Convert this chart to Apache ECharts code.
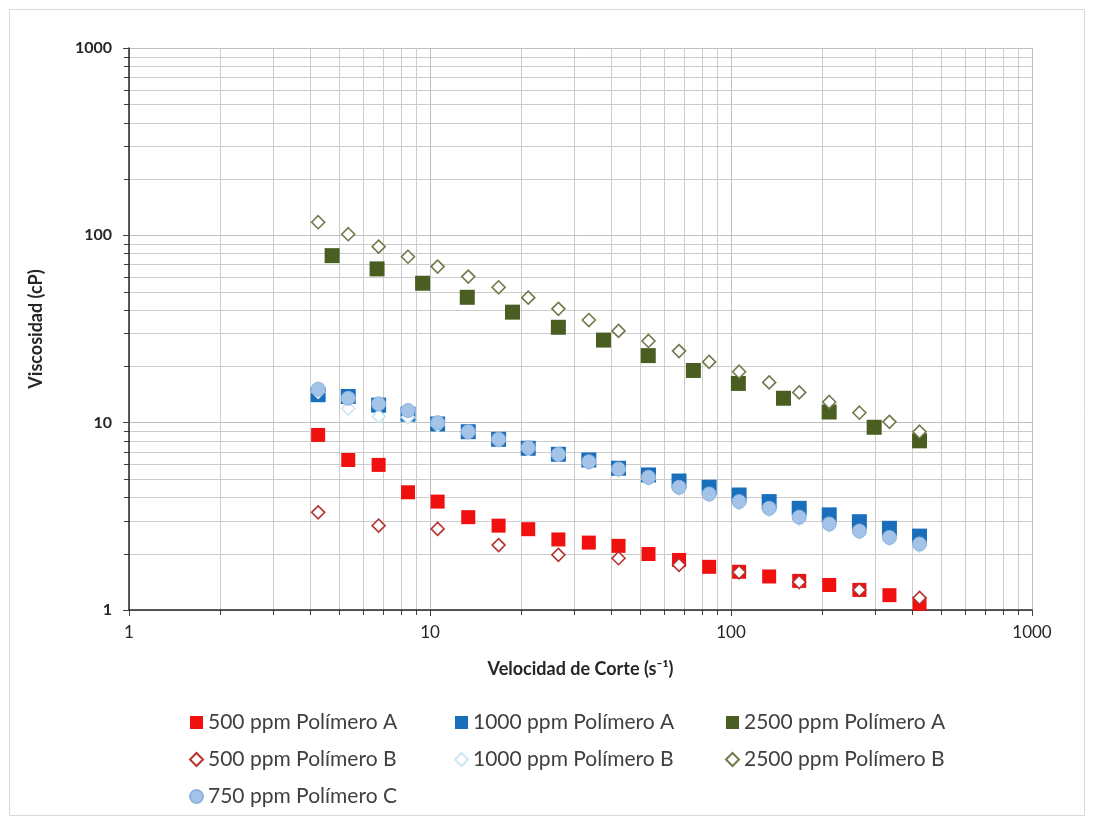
<!DOCTYPE html>
<html>
<head>
<meta charset="utf-8">
<script src="https://cdn.jsdelivr.net/npm/echarts@6/dist/echarts.min.js"></script>
<style>
html,body{margin:0;padding:0;background:#fff;}
#chart{width:1093px;height:820px;}
</style>
</head>
<body>
<div id="chart"></div>
<script>
// Shear rates (s^-1)
const xFull = [4.25,5.35,6.75,8.45,10.6,13.4,16.9,21.2,26.7,33.7,42.3,53.2,67.2,84.6,106.4,133.9,168.5,212,267,336,423];
const xHalf = [4.25,6.75,10.6,16.9,26.7,42.3,67.2,106.4,168.5,267,423];
const x2500A = [4.73,6.67,9.45,13.3,18.8,26.7,37.7,53.1,75.0,105.8,149.4,211.9,299,423];

// Viscosities (cP)
const y500A  = [8.60,6.32,5.95,4.25,3.79,3.13,2.82,2.70,2.38,2.29,2.20,1.99,1.85,1.70,1.60,1.51,1.43,1.36,1.28,1.20,1.08];
const y1000A = [14.1,13.8,12.4,11.1,9.84,8.95,8.15,7.30,6.78,6.32,5.71,5.26,4.88,4.52,4.11,3.79,3.49,3.22,2.96,2.73,2.48];
const y2500A = [77.9,66.2,55.5,46.7,38.9,32.3,27.6,22.8,19.0,16.2,13.5,11.4,9.45,8.0];
const y500B  = [3.32,2.82,2.71,2.22,1.97,1.89,1.74,1.59,1.41,1.28,1.16];
const y1000B = [14.6,11.9,10.8,10.7,9.7,8.8,8.0,7.2,6.7,6.1,5.55,5.0,4.45,4.1,3.72,3.42,3.07,2.83,2.6,2.4,2.2];
const y2500B = [117.5,101.4,87.0,76.9,68.1,60.2,52.8,46.5,40.5,35.3,30.9,27.3,24.1,21.1,18.7,16.4,14.5,12.9,11.3,10.1,8.95];
const y750C  = [15.1,13.5,12.6,11.6,10.0,8.95,8.15,7.35,6.78,6.19,5.66,5.11,4.52,4.16,3.79,3.49,3.13,2.88,2.64,2.44,2.25];

// Axis tick values
const minorX = [2,3,4,5,6,7,8,9,20,30,40,50,60,70,80,90,200,300,400,500,600,700,800,900];
const minorY = [2,3,4,5,6,7,8,9,20,30,40,50,60,70,80,90,200,300,400,500,600,700,800,900];

const names = ['500 ppm Polímero A','1000 ppm Polímero A','2500 ppm Polímero A','500 ppm Polímero B','1000 ppm Polímero B','2500 ppm Polímero B','750 ppm Polímero C'];

const zip = (xs, ys) => xs.map((x, i) => [x, ys[i]]);
const FONT = 'Lato';

const chart = echarts.init(document.getElementById('chart'), null, {renderer: 'canvas'});

function gridItem(isX) {
  return function (params, api) {
    const cs = params.coordSys;
    const p = api.coord([api.value(0), api.value(1)]);
    const gs = {stroke: '#cccccc', lineWidth: 1};
    const ts = {stroke: '#404040', lineWidth: 1};
    if (isX) {
      const x = Math.round(p[0]) + 0.5;
      return {type: 'group', children: [
        {type: 'line', shape: {x1: x, y1: cs.y, x2: x, y2: cs.y + cs.height}, style: gs},
        {type: 'line', shape: {x1: x, y1: cs.y + cs.height, x2: x, y2: cs.y + cs.height + 5}, style: ts}
      ]};
    } else {
      const y = Math.round(p[1]) + 0.5;
      return {type: 'group', children: [
        {type: 'line', shape: {x1: cs.x, y1: y, x2: cs.x + cs.width, y2: y}, style: gs},
        {type: 'line', shape: {x1: cs.x - 5, y1: y, x2: cs.x, y2: y}, style: ts}
      ]};
    }
  };
}

const sqStyle = (c) => ({color: c, borderColor: c, borderWidth: 0, opacity: 1});
const diaStyle = (c) => ({color: '#ffffff', borderColor: c, borderWidth: 1.6, opacity: 1});
const legText = {fontFamily: FONT, fontSize: 21, color: '#404040'};

const option = {
  backgroundColor: '#ffffff',
  animation: false,
  textStyle: {fontFamily: FONT},
  graphic: [{type: 'rect', shape: {x: 9.5, y: 9.5, width: 1075, height: 806}, style: {fill: 'none', stroke: '#d9d9d9', lineWidth: 1}, silent: true, z: -10}],
  grid: {left: 129, right: 61, top: 48, bottom: 210, containLabel: false},
  xAxis: {
    type: 'log', logBase: 10, min: 1, max: 1000,
    name: 'Velocidad de Corte (s⁻¹)', nameLocation: 'middle', nameGap: 50,
    nameTextStyle: {fontFamily: FONT, fontSize: 18, fontWeight: 'bold', color: '#262626'},
    axisLine: {show: true, onZero: false, lineStyle: {color: '#262626', width: 1.5}},
    axisTick: {show: true, inside: false, length: 6, lineStyle: {color: '#404040'}},
    axisLabel: {fontFamily: FONT, fontSize: 17, color: '#262626', margin: 14, formatter: (v) => String(v)},
    splitLine: {show: true, lineStyle: {color: '#bfbfbf', width: 1}}
  },
  yAxis: {
    type: 'log', logBase: 10, min: 1, max: 1000,
    name: 'Viscosidad (cP)', nameLocation: 'middle', nameGap: 84, nameRotate: 90,
    nameTextStyle: {fontFamily: FONT, fontSize: 18, fontWeight: 'bold', color: '#262626'},
    axisLine: {show: true, onZero: false, lineStyle: {color: '#262626', width: 1.5}},
    axisTick: {show: true, inside: false, length: 6, lineStyle: {color: '#404040'}},
    axisLabel: {fontFamily: FONT, fontSize: 16, fontWeight: 'bold', color: '#262626', margin: 17, formatter: (v) => String(v)},
    splitLine: {show: true, lineStyle: {color: '#bfbfbf', width: 1}}
  },
  legend: [
    {data: [names[0], names[3], names[6]], orient: 'vertical', left: 184, top: 707, itemGap: 16, itemWidth: 13, itemHeight: 13, textStyle: legText},
    {data: [names[1], names[4]], orient: 'vertical', left: 449, top: 707, itemGap: 16, itemWidth: 13, itemHeight: 13, textStyle: legText},
    {data: [names[2], names[5]], orient: 'vertical', left: 720, top: 707, itemGap: 16, itemWidth: 13, itemHeight: 13, textStyle: legText}
  ],
  series: [
    {type: 'custom', name: 'gx', coordinateSystem: 'cartesian2d', renderItem: gridItem(true), data: minorX.map(v => [v, 1]), silent: true, clip: false, z: 0},
    {type: 'custom', name: 'gy', coordinateSystem: 'cartesian2d', renderItem: gridItem(false), data: minorY.map(v => [1, v]), silent: true, clip: false, z: 0},
    {type: 'scatter', name: names[0], data: zip(xFull, y500A), symbol: 'rect', symbolSize: 14, itemStyle: sqStyle('#F01010'), z: 2},
    {type: 'scatter', name: names[1], data: zip(xFull, y1000A), symbol: 'rect', symbolSize: 15, itemStyle: sqStyle('#1A6FBD'), z: 2},
    {type: 'scatter', name: names[2], data: zip(x2500A, y2500A), symbol: 'rect', symbolSize: 15, itemStyle: sqStyle('#4A5E22'), z: 2},
    {type: 'scatter', name: names[3], data: zip(xHalf, y500B), symbol: 'diamond', symbolSize: 13, itemStyle: diaStyle('#B83232'), z: 3},
    {type: 'scatter', name: names[4], data: zip(xFull, y1000B), symbol: 'diamond', symbolSize: 13, itemStyle: diaStyle('#CDE6F4'), z: 3},
    {type: 'scatter', name: names[5], data: zip(xFull, y2500B), symbol: 'diamond', symbolSize: 13, itemStyle: diaStyle('#6E7A4A'), z: 3},
    {type: 'scatter', name: names[6], data: zip(xFull, y750C), symbol: 'circle', symbolSize: 14, itemStyle: {color: '#A3C3E8', borderColor: '#8FB3DD', borderWidth: 1, opacity: 1}, z: 4}
  ]
};
chart.setOption(option);
</script>
</body>
</html>
